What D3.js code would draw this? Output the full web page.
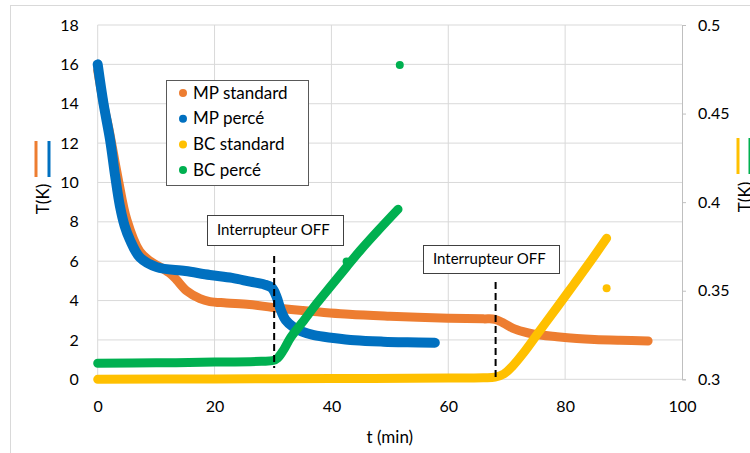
<!DOCTYPE html>
<html><head><meta charset="utf-8">
<script src="https://cdn.jsdelivr.net/npm/d3@7"></script>
<style>body{margin:0;background:#fff}svg{display:block;font-family:Lato,"Open Sans",sans-serif}</style>
</head><body><svg id="c" width="750" height="453"></svg>
<script>
// ---- data ----
const xTicks = [0, 20, 40, 60, 80, 100];
const yLeftTicks = [0, 2, 4, 6, 8, 10, 12, 14, 16, 18];
const yRightTicks = [0.3, 0.35, 0.4, 0.45, 0.5];
const seriesNames = ["MP standard", "MP percé", "BC standard", "BC percé"];
const seriesColors = ["#ED7D31", "#0070C0", "#FFC000", "#00B050"];

const mpStdT = [0, 1, 2, 3.5, 5, 7.2, 9, 10.7, 12.5, 13.5, 15.2, 17.5, 19.2, 22, 26, 30, 35, 43, 50, 60, 66, 68, 69.5, 71, 72.8, 74.5, 78.6, 82, 85, 89.4, 94.2];
const mpStdV = [15.7, 14, 12.6, 10.2, 8.1, 6.5, 6.0, 5.7, 5.35, 5.05, 4.5, 4.1, 3.95, 3.88, 3.8, 3.65, 3.5, 3.3, 3.2, 3.1, 3.07, 3.05, 2.85, 2.6, 2.42, 2.3, 2.16, 2.07, 2.02, 1.98, 1.95];

const mpPerT = [0, 1, 2.1, 3, 3.8, 4.6, 5.5, 7.2, 10.1, 15, 19.2, 23, 26.1, 28.5, 29.8, 30.6, 31.3, 32.2, 33.5, 35, 37, 40.3, 44, 48.9, 53, 57.7];
const mpPerV = [16, 14, 12.2, 10.3, 8.8, 7.8, 7.1, 6.2, 5.7, 5.5, 5.3, 5.15, 4.96, 4.82, 4.65, 4.2, 3.55, 3.0, 2.65, 2.42, 2.24, 2.1, 1.98, 1.91, 1.88, 1.86];

const bcStdT = [0, 20, 40, 60, 66, 68, 69.5, 71, 72.9, 75.7, 78.5, 81.4, 84.3, 87.1];
const bcStdV = [0.3, 0.3002, 0.3004, 0.3007, 0.3009, 0.3012, 0.303, 0.3075, 0.315, 0.3276, 0.3401, 0.3532, 0.3664, 0.3796];
const bcStdDotT = [87.1];
const bcStdDotV = [0.3514];

const bcPerT = [0, 10, 20, 28, 30, 30.8, 31.8, 33, 35, 37.5, 40, 42.6, 45, 48, 51.4];
const bcPerV = [0.3091, 0.3093, 0.3097, 0.3102, 0.3106, 0.312, 0.3165, 0.3235, 0.332, 0.3429, 0.353, 0.3635, 0.373, 0.384, 0.396];
const bcPerDotT = [42.6, 51.7];
const bcPerDotV = [0.3665, 0.4774];

const annotations = ["Interrupteur OFF", "Interrupteur OFF"];
const switchT = [30.2, 68.1];

// ---- layout ----
const svg = d3.select("#c");
const L = 97.7, R = 682, T = 25, B = 379.3;
const x = d3.scaleLinear().domain([0, 100]).range([L, R]);
const yL = d3.scaleLinear().domain([0, 18]).range([B, T]);
const yR = d3.scaleLinear().domain([0.3, 0.5]).range([B, T]);
const grid = "#d9d9d9";

// chart border
svg.append("rect").attr("x", 10.5).attr("y", 5.5).attr("width", 800).attr("height", 500)
  .attr("fill", "none").attr("stroke", grid);

// gridlines
svg.append("g").selectAll("line").data(yLeftTicks).join("line")
  .attr("x1", L).attr("x2", R).attr("y1", d => yL(d)).attr("y2", d => yL(d))
  .attr("stroke", grid).attr("stroke-width", 1);
svg.append("g").selectAll("line").data(xTicks.slice(0, -1)).join("line")
  .attr("x1", d => x(d)).attr("x2", d => x(d)).attr("y1", T).attr("y2", B)
  .attr("stroke", grid).attr("stroke-width", 1);

// axes
const fs = 16;
const gl = svg.append("g").attr("transform", `translate(${L},0)`)
  .call(d3.axisLeft(yL).tickValues(yLeftTicks).tickSize(0).tickPadding(19));
gl.select(".domain").remove();
const gr = svg.append("g").attr("transform", `translate(${R},0)`)
  .call(d3.axisRight(yR).tickValues(yRightTicks).tickSize(4).tickPadding(12).tickFormat(d3.format("")));
gr.select(".domain").attr("stroke", "#bfbfbf");
gr.selectAll(".tick line").attr("stroke", "#bfbfbf");
const gb = svg.append("g").attr("transform", `translate(0,${B})`)
  .call(d3.axisBottom(x).tickValues(xTicks).tickSize(0).tickPadding(21));
gb.select(".domain").remove();
svg.selectAll(".tick text").attr("font-size", fs).attr("fill", "#000")
  .attr("font-family", "Lato, 'Open Sans', sans-serif");

// axis titles
svg.append("text").attr("x", x(50)).attr("y", 443).attr("text-anchor", "middle")
  .attr("font-size", 17).text("t (min)");
svg.append("text").attr("transform", "translate(49,199) rotate(-90)").attr("text-anchor", "middle")
  .attr("font-size", 17).text("T(K)");
svg.append("text").attr("transform", "translate(750.5,197) rotate(-90)").attr("text-anchor", "middle")
  .attr("font-size", 17).text("T(K)");
// title legend keys
[[36, 0], [49, 1]].forEach(([px, i]) => svg.append("line").attr("x1", px).attr("x2", px)
  .attr("y1", 141).attr("y2", 177).attr("stroke", seriesColors[i]).attr("stroke-width", 3));
[[738, 2], [750, 3]].forEach(([px, i]) => svg.append("line").attr("x1", px).attr("x2", px)
  .attr("y1", 138).attr("y2", 174).attr("stroke", seriesColors[i]).attr("stroke-width", 3));

// series
const curve = d3.curveCatmullRom.alpha(0.5);
const lineL = d3.line().x(d => x(d[0])).y(d => yL(d[1])).curve(curve);
const lineR = d3.line().x(d => x(d[0])).y(d => yR(d[1])).curve(curve);
const zip = (a, b) => a.map((v, i) => [v, b[i]]);
const series = [
  {d: zip(mpStdT, mpStdV), gen: lineL, c: seriesColors[0], w: 9},
  {d: zip(mpPerT, mpPerV), gen: lineL, c: seriesColors[1], w: 10},
  {d: zip(bcStdT, bcStdV), gen: lineR, c: seriesColors[2], w: 9},
  {d: zip(bcPerT, bcPerV), gen: lineR, c: seriesColors[3], w: 9},
];
series.forEach(s => svg.append("path").attr("d", s.gen(s.d)).attr("fill", "none")
  .attr("stroke", s.c).attr("stroke-width", s.w).attr("stroke-linecap", "round").attr("stroke-linejoin", "round"));
svg.append("g").selectAll("circle").data(zip(bcStdDotT, bcStdDotV)).join("circle")
  .attr("cx", d => x(d[0])).attr("cy", d => yR(d[1])).attr("r", 4).attr("fill", seriesColors[2]);
svg.append("g").selectAll("circle").data(zip(bcPerDotT, bcPerDotV)).join("circle")
  .attr("cx", d => x(d[0])).attr("cy", d => yR(d[1])).attr("r", 4).attr("fill", seriesColors[3]);

// dashed switch lines
const dashTop = [256, 282];
switchT.forEach((t, i) => svg.append("line").attr("x1", x(t)).attr("x2", x(t))
  .attr("y1", dashTop[i]).attr("y2", i === 0 ? 368 : B).attr("stroke", "#000")
  .attr("stroke-width", 2).attr("stroke-dasharray", "7,4"));

// annotation boxes
const boxes = [[207, 215, 136, 30], [423, 245, 136, 28]];
boxes.forEach((b, i) => {
  svg.append("rect").attr("x", b[0] + 0.5).attr("y", b[1] + 0.5).attr("width", b[2]).attr("height", b[3])
    .attr("fill", "#fff").attr("stroke", "#404040");
  svg.append("text").attr("x", b[0] + 10).attr("y", b[1] + b[3] / 2 + 5).attr("font-size", 15)
    .text(annotations[i]);
});

// legend
const lg = svg.append("g");
lg.append("rect").attr("x", 166.5).attr("y", 80.5).attr("width", 142).attr("height", 105)
  .attr("fill", "#fff").attr("stroke", "#595959");
seriesNames.forEach((n, i) => {
  const yy = 93 + i * 25.7;
  lg.append("circle").attr("cx", 183).attr("cy", yy).attr("r", 4).attr("fill", seriesColors[i]);
  lg.append("text").attr("x", 193).attr("y", yy + 5.5).attr("font-size", 17).text(n);
});
</script></body></html>
